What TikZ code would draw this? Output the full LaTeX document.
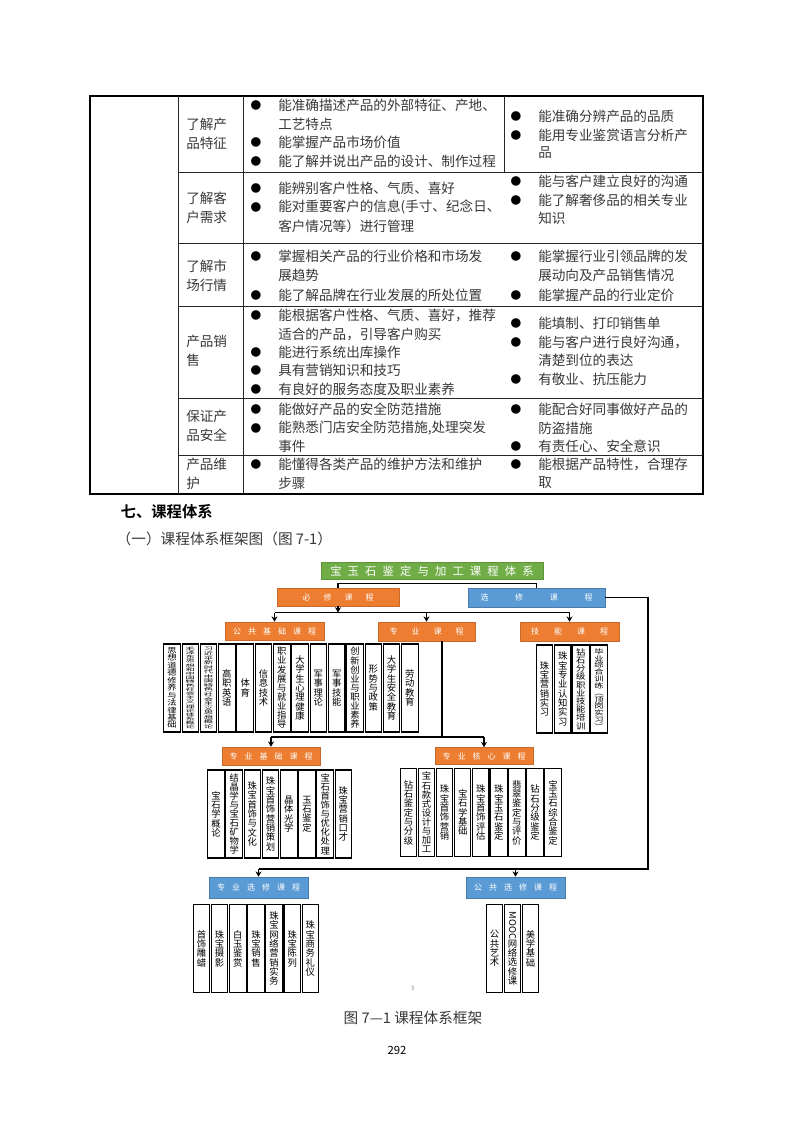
\documentclass[tikz,border=0pt]{standalone}
\usepackage{fontspec}
\usepackage{graphicx}
\setmainfont{Noto Sans CJK SC}[BoldFont={Noto Sans CJK SC Bold}]
\usetikzlibrary{positioning,arrows.meta,calc}
\definecolor{cOrg}{HTML}{ED7D31}
\definecolor{cBlu}{HTML}{5B9BD5}
\definecolor{cGrn}{HTML}{70AD47}
\definecolor{cInk}{HTML}{383838}
\makeatletter
\newcount\vcnt
% vertical stack of characters, squeezed to fit #1 pt
\newcommand{\vstk}[2]{\expandafter\vstk@i\expandafter{#2}{#1}}
\newcommand{\vstk@i}[2]{%
  \vcnt=0 \@tfor\c@h:=#1\do{\advance\vcnt by 1}%
  \pgfmathsetmacro\vsc{min(1,#2/(\the\vcnt*\f@size))}%
  \vbox{\pgfmathsetlength\baselineskip{\vsc*\f@size pt}\lineskiplimit=0pt\lineskip=0.5pt
    \@tfor\c@h:=#1\do{\hbox to 0pt{\hss\scalebox{1}[\vsc]{\c@h}\hss}}}}
% letter spaced label
\newcommand{\spc}[2]{\def\sp@sep{}\@tfor\c@h:=#2\do{\sp@sep\c@h\def\sp@sep{\hspace{#1}}}}
\makeatother
\newcommand{\mooc}{\rotatebox{-90}{MOOC}}
\tikzset{
  hb/.style 2 args={rectangle, inner sep=0pt, minimum width=#1*0.75pt,
              minimum height=#2*0.75pt, text=white, font=\fontsize{6}{6}\selectfont},
  org/.style={fill=cOrg, draw=cOrg!85!black, line width=0.4pt},
  blu/.style={fill=cBlu, draw=cBlu!80!black, line width=0.4pt},
  grn/.style={fill=cGrn, draw=cGrn!85!black, line width=0.4pt},
  crs/.style={draw=black, fill=white, line width=0.8pt, inner sep=0pt,
              minimum width=12.4pt, minimum height=66pt, font=\fontsize{7}{7}\selectfont},
  ln/.style={line width=1.1pt, black},
  ar/.style={ln, -{Stealth[length=4pt,width=4.5pt]}},
  cell/.style={anchor=west, inner sep=0pt, text=cInk, font=\fontsize{10.2}{12}\selectfont},
  bul/.style={inner sep=0pt, text=black, font=\fontsize{8}{8}\selectfont},
  tbl/.style={line width=0.6pt, black!85}
}
\begin{document}
\begin{tikzpicture}[x=0.75pt, y=-0.75pt]
\useasboundingbox (0,0) rectangle (793,1122);
\fill[white] (0,0) rectangle (793,1122);
% table
\draw[line width=1.1pt] (90,96) rectangle (703,494);
\draw[tbl] (178,96) -- (178,494);
\draw[tbl] (243,96) -- (243,494);
\draw[tbl] (504,96) -- (504,172);
\foreach \yy in {172,243,306,398,455} \draw[tbl] (178,\yy) -- (703,\yy);
\foreach \yy/\cn [count=\i] in {124/了解产,143/品特征,198/了解客,217/户需求,266/了解市,285/场行情,
    341/产品销,360/售,416/保证产,435/品安全,464/产品维,483/护}
  \node[cell] (l\i) at (186,\yy) {\cn};
\foreach \yy/\cn [count=\i] in {105/能准确描述产品的外部特征、产地、,124/工艺特点,142/能掌握产品市场价值,
    161/能了解并说出产品的设计、制作过程,188/能辨别客户性格、气质、喜好,
    207/能对重要客户的信息(手寸、纪念日、,226/客户情况等）进行管理,
    256/掌握相关产品的行业价格和市场发,275/展趋势,295/能了解品牌在行业发展的所处位置,
    315/能根据客户性格、气质、喜好，推荐,334/适合的产品，引导客户购买,352/能进行系统出库操作,
    370/具有营销知识和技巧,389/有良好的服务态度及职业素养,409/能做好产品的安全防范措施,
    428/{能熟悉门店安全防范措施,处理突发},446/事件,464/能懂得各类产品的维护方法和维护,483/步骤}
  \node[cell] (m\i) at (278,\yy) {\cn};
\foreach \yy/\cn [count=\i] in {116/能准确分辨产品的品质,135/能用专业鉴赏语言分析产,153/品,
    181/能与客户建立良好的沟通,200/能了解奢侈品的相关专业,218/知识,
    256/能掌握行业引领品牌的发,275/展动向及产品销售情况,295/能掌握产品的行业定价,
    323/能填制、打印销售单,342/能与客户进行良好沟通，,360/清楚到位的表达,379/有敬业、抗压能力,
    409/能配合好同事做好产品的,428/防盗措施,446/有责任心、安全意识,464/能根据产品特性，合理存,483/取}
  \node[cell] (r\i) at (538,\yy) {\cn};
\foreach \yy [count=\i] in {105,142,161,188,207,256,295,315,352,370,389,409,428,464}
  \node[bul] (bm\i) at (256,\yy) {●};
\foreach \yy [count=\i] in {116,135,181,200,256,295,323,342,379,409,446,464}
  \node[bul] (br\i) at (516,\yy) {●};
% headings
\node[anchor=west, font=\fontsize{11.5}{12}\selectfont\bfseries] (sec7) at (116,512) {七、课程体系};
\node[anchor=west, text=cInk, font=\fontsize{11}{12}\selectfont] (sub1) at (112,539) {（一）课程体系框架图（图 7-1）};
% chart boxes
\node[hb={222}{17}, grn, font=\fontsize{8.5}{8.5}\selectfont] (title) at (432,571) {\spc{4.6pt}{宝玉石鉴定与加工课程体系}};
\node[hb={122}{18}, org] (bixiu) at (338,597) {\spc{9.75pt}{必修课程}};
\node[hb={137}{19}, blu] (xuanxiu) at (536.5,597.5) {\spc{20pt}{选修课程}};
\node[hb={99}{18}, org] (gjjc) at (274.5,631) {\spc{5.25pt}{公共基础课程}};
\node[hb={97}{19}, org] (zhuanye) at (426.5,631.5) {\spc{10.5pt}{专业课程}};
\node[hb={99}{19}, org] (jineng) at (569.5,631.5) {\spc{11.25pt}{技能课程}};
\node[hb={98}{18}, org] (zyjc) at (271,756) {\spc{5.25pt}{专业基础课程}};
\node[hb={98}{17}, org] (zyhx) at (484,756) {\spc{5.25pt}{专业核心课程}};
\node[hb={99}{21}, blu] (zyxx) at (258.5,887.5) {\spc{5.25pt}{专业选修课程}};
\node[hb={99}{21}, blu] (ggxx) at (515.5,887.5) {\spc{5.25pt}{公共选修课程}};
% course columns
\foreach \cn [count=\i] in {思想道德修养与法律基础,毛泽东思想和中国特色社会主义理论体系概论,
    习近平新时代中国特色社会主义思想概论,高职英语,体育,信息技术,职业发展与就业指导,大学生心理健康,
    军事理论,军事技能,创新创业与职业素养,形势与政策,大学生安全教育,劳动教育}
  \node[crs] (gj\i) at ({172+18.3*(\i-1)},688) {\vstk{61.5}{\cn}};
\foreach \cn [count=\i] in {珠宝营销实习,珠宝专业认知实习,钻石分级职业技能培训,毕业综合训练︵顶岗实习︶}
  \node[crs] (jn\i) at ({544.5+18.2*(\i-1)},689) {\vstk{61.5}{\cn}};
\foreach \cn [count=\i] in {宝石学概论,结晶学与宝石矿物学,珠宝首饰与文化,珠宝首饰营销策划,
    晶体光学,玉石鉴定,宝石首饰与优化处理,珠宝营销口才}
  \node[crs] (zj\i) at ({216+18.2*(\i-1)},814) {\vstk{61.5}{\cn}};
\foreach \cn [count=\i] in {钻石鉴定与分级,宝石款式设计与加工,珠宝首饰营销,宝石学基础,珠宝首饰评估,
    珠宝玉石鉴定,翡翠鉴定与评价,钻石分级鉴定,宝玉石综合鉴定}
  \node[crs] (zh\i) at ({408.5+18.06*(\i-1)},812.5) {\vstk{61.5}{\cn}};
\foreach \cn [count=\i] in {首饰雕蜡,珠宝摄影,白玉鉴赏,珠宝销售,珠宝网络营销实务,珠宝陈列,珠宝商务礼仪}
  \node[crs] (zx\i) at ({201.5+18.15*(\i-1)},948.5) {\vstk{61.5}{\cn}};
\foreach \cn [count=\i] in {公共艺术,\mooc 网络选修课,美学基础}
  \node[crs] (gx\i) at ({494.5+18*(\i-1)},948.5) {\vstk{61.5}{\cn}};
% connectors
\draw[ln] (bixiu.north) |- ($(title.south)+(0,3.5)$) -| (xuanxiu.north);
\coordinate (busA) at (338,612.5);
\draw[ar] (bixiu.south) -- (busA);
\draw[ln] (gjjc.north |- busA) -- (jineng.north |- busA);
\foreach \nn in {gjjc,zhuanye,jineng} \draw[ar] (\nn.north |- busA) -- (\nn.north);
\coordinate (busB) at (442,737);
\draw[ln] ($(zhuanye.south)+(15.5,0)$) -- (busB);
\draw[ln] (zyjc.north |- busB) -- (zyhx.north |- busB);
\foreach \nn in {zyjc,zyhx} \draw[ar] (\nn.north |- busB) -- (\nn.north);
\coordinate (busC) at (648,869);
\draw[ln] (xuanxiu.east) -| (busC) -- (zyxx.north |- busC);
\foreach \nn in {zyxx,ggxx} \draw[ar] (\nn.north |- busC) -- (\nn.north);
% captions
\node[font=\fontsize{4.5}{5}\selectfont, text=black!45] (pg5) at (413,988) {5};
\node[text=cInk, font=\fontsize{11}{12}\selectfont] (cap) at (413,1018) {图 7—1 课程体系框架};
\node[font=\fontsize{8.5}{9}\selectfont] (pgno) at (397,1050) {292};
\end{tikzpicture}
\end{document}
